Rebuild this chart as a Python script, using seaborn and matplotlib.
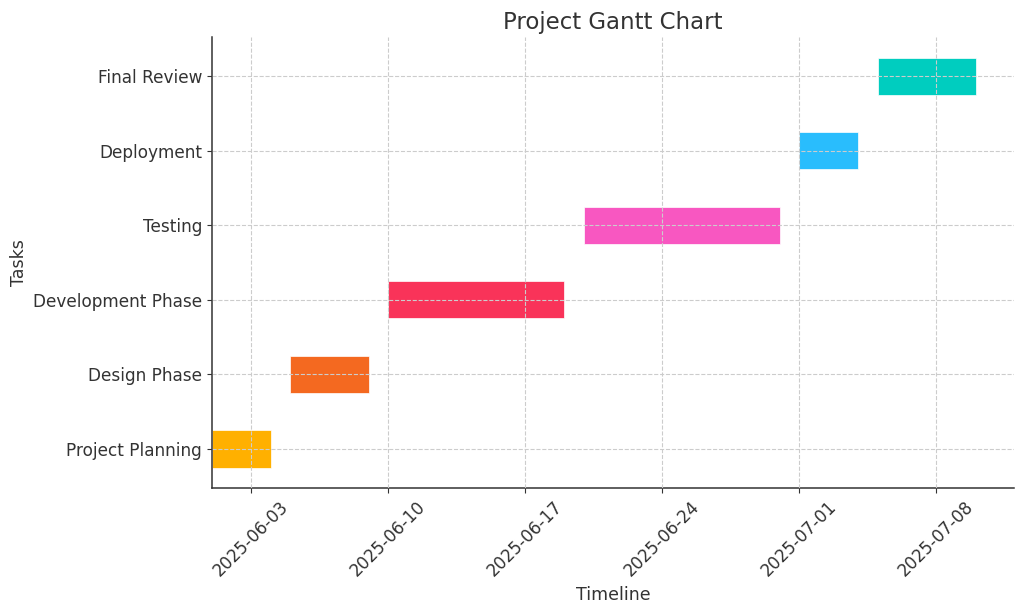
import pandas as pd
import matplotlib
matplotlib.use("Agg")
import matplotlib.pyplot as plt
import matplotlib.dates as mdates
import seaborn as sns

tasks = ["Project Planning", "Design Phase", "Development Phase",
         "Testing", "Deployment", "Final Review"]
starts = ["2025-06-01", "2025-06-05", "2025-06-10",
          "2025-06-20", "2025-07-01", "2025-07-05"]
ends = ["2025-06-04", "2025-06-09", "2025-06-19",
        "2025-06-30", "2025-07-04", "2025-07-10"]
colors = ["#FFB000", "#F46920", "#F93359", "#F857C1", "#29BDFD", "#00CDBF"]

df = pd.DataFrame({"Task": tasks,
                   "Start": pd.to_datetime(starts),
                   "End": pd.to_datetime(ends)})
df["Duration"] = (df["End"] - df["Start"]).dt.days

sns.set_style("ticks")
plt.rcParams["font.family"] = ["DejaVu Sans"]

fig, ax = plt.subplots(figsize=(10.24, 6.1), dpi=100)
fig.subplots_adjust(left=0.207, right=0.990, top=0.939, bottom=0.2)

ax.barh(df["Task"], df["Duration"], left=mdates.date2num(df["Start"]),
        height=0.5, color=colors, edgecolor="white", linewidth=0.5)

# ticks every tuesday
ax.xaxis.set_major_locator(mdates.WeekdayLocator(byweekday=mdates.TU))
ax.xaxis.set_major_formatter(mdates.DateFormatter("%Y-%m-%d"))
plt.setp(ax.get_xticklabels(), rotation=45)

ax.grid(True, linestyle="--", color="#cccccc", linewidth=0.8)
ax.set_axisbelow(False)
sns.despine(ax=ax)
for s in ["left", "bottom"]:
    ax.spines[s].set_color("#333333")
    ax.spines[s].set_linewidth(1.1)

ax.tick_params(labelsize=12.2, length=3.5, pad=3.5, colors="#333333")
ax.set_title("Project Gantt Chart", fontsize=16.5, color="#333333")
ax.set_xlabel("Timeline", fontsize=12.5, color="#333333")
ax.set_ylabel("Tasks", fontsize=12.5, color="#333333")

plt.savefig("out.png", dpi=100)
